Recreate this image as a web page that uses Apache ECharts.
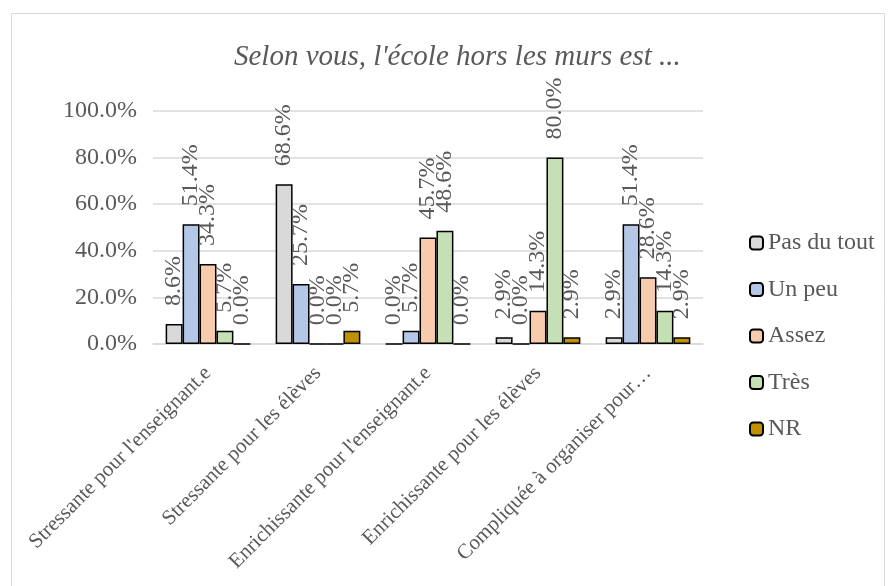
<!DOCTYPE html>
<html>
<head>
<meta charset="utf-8">
<script src="https://cdn.jsdelivr.net/npm/echarts@6/dist/echarts.min.js"></script>
<style>
  html, body { margin: 0; padding: 0; background: #fff; }
  #chart { width: 895px; height: 586px; }
</style>
</head>
<body>
<div id="chart"></div>
<script>
const categories = [
  "Stressante pour l'enseignant.e",
  'Stressante pour les élèves',
  "Enrichissante pour l'enseignant.e",
  'Enrichissante pour les élèves',
  'Compliquée à organiser pour…'
]
const pasDuTout = [8.6, 68.6, 0.0, 2.9, 2.9]
const unPeu = [51.4, 25.7, 5.7, 0.0, 51.4]
const assez = [34.3, 0.0, 45.7, 14.3, 28.6]
const tres = [5.7, 0.0, 48.6, 80.0, 14.3]
const nr = [0.0, 5.7, 0.0, 2.9, 2.9]
const yTicks = [0, 20, 40, 60, 80, 100]

const font = "'Liberation Serif', 'Times New Roman', serif"
const textGray = '#595959'

const seriesDefs = [
  { name: 'Pas du tout', data: pasDuTout, color: '#d9d9d9' },
  { name: 'Un peu', data: unPeu, color: '#b4c7e7' },
  { name: 'Assez', data: assez, color: '#f8cbad' },
  { name: 'Très', data: tres, color: '#c5e0b4' },
  { name: 'NR', data: nr, color: '#bf9000' }
]

const chart = echarts.init(document.getElementById('chart'))

const option = {
  animation: false,
  backgroundColor: '#fff',
  graphic: [{
    type: 'rect',
    shape: { x: 11.5, y: 13.5, width: 873, height: 620 },
    style: { fill: 'none', stroke: '#d9d9d9', lineWidth: 1 },
    silent: true
  }],
  title: {
    text: "Selon vous, l'école hors les murs est ...",
    left: 229,
    top: 38,
    textStyle: { fontFamily: font, fontSize: 29, fontStyle: 'italic', fontWeight: 'normal', color: textGray }
  },
  legend: {
    orient: 'vertical',
    left: 749,
    top: 231,
    padding: 0,
    itemWidth: 13,
    itemHeight: 13,
    itemGap: 22.5,
    textStyle: { fontFamily: font, fontSize: 24, lineHeight: 24, color: textGray },
    data: seriesDefs.map(s => s.name)
  },
  grid: { left: 153, right: 192, top: 111, bottom: 242, containLabel: false },
  xAxis: {
    type: 'category',
    data: categories,
    axisLine: { lineStyle: { color: '#d9d9d9', width: 1.5 } },
    axisTick: { show: false },
    axisLabel: {
      interval: 0,
      rotate: 45,
      margin: 26,
      fontFamily: font,
      fontSize: 21,
      color: textGray
    }
  },
  yAxis: {
    type: 'value',
    min: yTicks[0],
    max: yTicks[yTicks.length - 1],
    interval: 20,
    axisLine: { show: false },
    axisTick: { show: false },
    splitLine: { lineStyle: { color: '#d9d9d9', width: 1.5 } },
    axisLabel: {
      margin: 16,
      fontFamily: font,
      fontSize: 24,
      color: textGray,
      formatter: v => v.toFixed(1) + '%'
    }
  },
  series: seriesDefs.map(s => ({
    name: s.name,
    type: 'bar',
    data: s.data,
    barGap: '0%',
    barCategoryGap: '23%',
    itemStyle: { color: s.color, borderColor: '#000', borderWidth: 1.5 },
    label: {
      show: true,
      position: 'top',
      rotate: 90,
      align: 'left',
      verticalAlign: 'middle',
      distance: 18,
      fontFamily: font,
      fontSize: 24,
      color: textGray,
      formatter: p => p.value.toFixed(1) + '%'
    }
  }))
}

chart.setOption(option)
</script>
</body>
</html>
